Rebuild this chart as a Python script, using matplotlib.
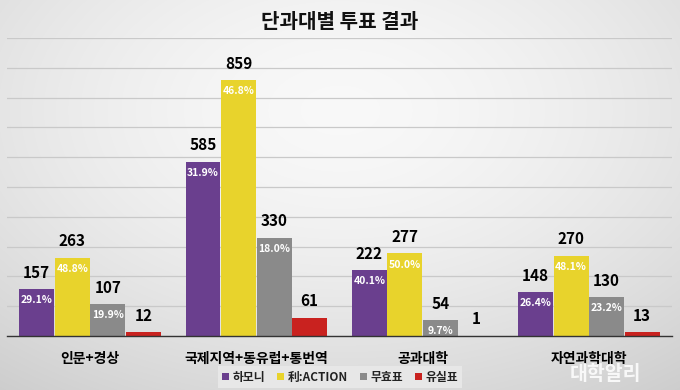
import numpy as np
import matplotlib
matplotlib.use("Agg")
import matplotlib.pyplot as plt
from matplotlib.patches import Patch

plt.rcParams['font.family'] = ['Noto Sans CJK KR', 'DejaVu Sans']

title = "단과대별 투표 결과"
categories = ["인문+경상", "국제지역+동유럽+통번역", "공과대학", "자연과학대학"]
series_names = ["하모니", "利:ACTION", "무효표", "유실표"]
harmony = [157, 585, 222, 148]
action = [263, 859, 277, 270]
invalid = [107, 330, 54, 130]
lost = [12, 61, 1, 13]
harmony_pct = ["29.1%", "31.9%", "40.1%", "26.4%"]
action_pct = ["48.8%", "46.8%", "50.0%", "48.1%"]
invalid_pct = ["19.9%", "18.0%", "9.7%", "23.2%"]
lost_pct = [None, None, None, None]
watermark = "대학알리"

colors = ["#6a3f8e", "#e8d32c", "#8a8a8a", "#c9221f"]

fig = plt.figure(figsize=(6.8, 3.9), dpi=100)

# background gradient
bg = fig.add_axes([0, 0, 1, 1], zorder=-10)
H, W = 390, 680
yy, xx = np.mgrid[0:H, 0:W]
r = np.sqrt(((xx - 340) / 540.0) ** 2 + ((yy - 110) / 340.0) ** 2)
val = 0.975 - 0.16 * np.clip(r, 0, 1.2) ** 1.6
img = np.dstack([val, val, val])
bg.imshow(img, aspect='auto', extent=[0, 1, 0, 1], origin='upper')
bg.set_axis_off()

ax = fig.add_axes([7 / 680, 1 - 336 / 390, 665 / 680, 298 / 390])
ax.patch.set_alpha(0)

series = [harmony, action, invalid, lost]
pcts = [harmony_pct, action_pct, invalid_pct, lost_pct]
n = len(categories)
x = np.arange(n)
bw = 0.214
offsets = (np.arange(4) - 1.5) * bw

for si, (vals, pl, c) in enumerate(zip(series, pcts, colors)):
    xs = x + offsets[si]
    ax.bar(xs, vals, width=bw * 0.98, color=c, zorder=3)
    for xi, v, p in zip(xs, vals, pl):
        ax.annotate(str(v), (xi, v), xytext=(0, 6), textcoords='offset points',
                    ha='center', va='bottom', fontsize=11, fontweight='bold',
                    color='black', zorder=5)
        if p:
            ax.annotate(p, (xi, v), xytext=(0, -8), textcoords='offset points',
                        ha='center', va='center', fontsize=7.5, fontweight='bold',
                        color='white', zorder=5)

ax.set_xlim(-0.5, n - 0.5)
ax.set_ylim(0, 1000)
ax.set_yticks(np.arange(0, 1001, 100))
ax.yaxis.grid(True, color='#c9c9c9', linewidth=0.9, zorder=0)
ax.tick_params(axis='y', left=False, labelleft=False)
ax.tick_params(axis='x', bottom=False, pad=8)
ax.set_xticks(x)
ax.set_xticklabels(categories, fontsize=10, fontweight='bold')
for s in ['top', 'right', 'left']:
    ax.spines[s].set_visible(False)
ax.spines['bottom'].set_color('#333333')
ax.spines['bottom'].set_linewidth(1.0)
ax.spines['bottom'].set_zorder(4)

fig.text(0.5, 1 - 22 / 390, title, ha='center', va='center', fontsize=14.5,
         fontweight='bold', color='#111111')

handles = [Patch(facecolor=c, edgecolor='none') for c in colors]
leg = fig.legend(handles, series_names, loc='center', bbox_to_anchor=(340 / 680, 1 - 377 / 390),
                 ncol=4, frameon=True, fontsize=8.5, handlelength=0.6, handleheight=0.6,
                 handletextpad=0.3, columnspacing=1.0, borderpad=0.35, fancybox=False)
leg.get_frame().set_facecolor('#e9e9e9')
leg.get_frame().set_edgecolor('none')
leg.get_frame().set_alpha(0.9)
for t in leg.get_texts():
    t.set_fontweight('bold')
    t.set_color('#222222')

# watermark (kept clear of the category label)
fig.text(605 / 680, 1 - 375 / 390, watermark, ha='center', va='center', fontsize=14,
         fontweight='bold', color='white', alpha=0.85, zorder=20)

fig.savefig("out.png", dpi=100)
